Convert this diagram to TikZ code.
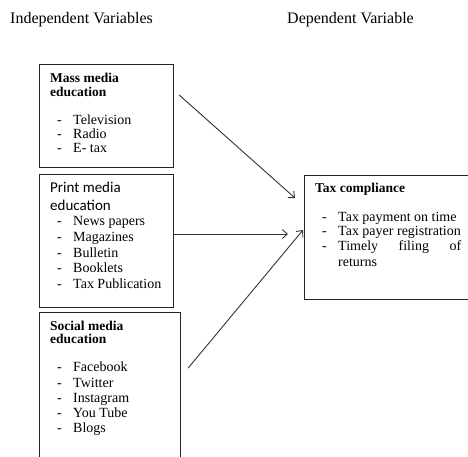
\documentclass[tikz,border=0pt]{standalone}
\usepackage{fontspec}
\setmainfont{Liberation Serif}
\newfontfamily\calfont{Carlito}
\usetikzlibrary{arrows.meta}
\begin{document}
\begin{tikzpicture}[x=1pt,y=-1pt,
  box/.style={draw=black!85, line width=1.2pt, rectangle, inner sep=0pt, anchor=north west},
  txt/.style={anchor=base west, inner sep=0pt, font=\fontsize{14}{16}\selectfont},
  hdr/.style={anchor=base west, inner sep=0pt, font=\fontsize{13.5}{15}\selectfont\bfseries},
  calhdr/.style={anchor=base west, inner sep=0pt, font=\fontsize{15}{17}\selectfont\calfont},
  title/.style={anchor=base west, inner sep=0pt, font=\fontsize{16}{18}\selectfont},
  arr/.style={draw=black!80, line width=0.9pt, -{Straight Barb[length=5pt,width=9pt]}}]
\useasboundingbox (0,0) rectangle (468,456);

% titles
\node[title] (indep) at (10,23) {Independent Variables};
\node[title] (dep) at (287,23) {Dependent Variable};

% boxes
\node[box, minimum width=134pt, minimum height=103pt] (mass) at (39,64) {};
\node[box, minimum width=134pt, minimum height=133pt] (print) at (39,174) {};
\node[box, minimum width=141pt, minimum height=160pt] (social) at (39,312) {};
\node[box, minimum width=175pt, minimum height=124pt] (tax) at (304,175) {};

% mass media
\node[hdr] (mh1) at (50,82.5) {Mass media};
\node[hdr] (mh2) at (50,96.5) {education};
\foreach \t/\y [count=\i] in {Television/124, Radio/138, E- tax/152}{
  \node[txt] (md\i) at (57,\y) {-};
  \node[txt] (mi\i) at (73,\y) {\t};
}

% print media
\node[calhdr] (ph1) at (50,192) {Print media};
\node[calhdr] (ph2) at (50,210) {education};
\foreach \t/\y [count=\i] in {News papers/225, Magazines/241, Bulletin/257, Booklets/272, Tax Publication/288}{
  \node[txt] (pd\i) at (57,\y) {-};
  \node[txt] (pi\i) at (73,\y) {\t};
}

% social media
\node[hdr] (sh1) at (50,330) {Social media};
\node[hdr] (sh2) at (50,343.5) {education};
\foreach \t/\y [count=\i] in {Facebook/371, Twitter/387, Instagram/402, You Tube/417, Blogs/432}{
  \node[txt] (sd\i) at (57,\y) {-};
  \node[txt] (si\i) at (73,\y) {\t};
}

% tax compliance
\node[hdr] (th1) at (315,192) {Tax compliance};
\node[txt] (td1) at (322,221) {-};
\node[txt] (ti1) at (338,221) {Tax payment on time};
\node[txt] (td2) at (322,235) {-};
\node[txt] (ti2) at (338,235) {Tax payer registration};
\node[txt] (td3) at (322,250) {-};
\node[txt] (ti3) at (338,250) {\makebox[123pt][s]{Timely\hfill filing\hfill of}};
\node[txt] (ti4) at (338,266) {returns};

% arrows
\draw[arr] ([shift={(5,31)}]mass.north east) -- ([shift={(-9,23)}]tax.north west);
\draw[arr] ([shift={(0,60)}]print.north east) -- ([shift={(-16,59)}]tax.north west);
\draw[arr] ([shift={(7,56)}]social.north east) -- ([shift={(-1,55)}]tax.north west);
\end{tikzpicture}
\end{document}
